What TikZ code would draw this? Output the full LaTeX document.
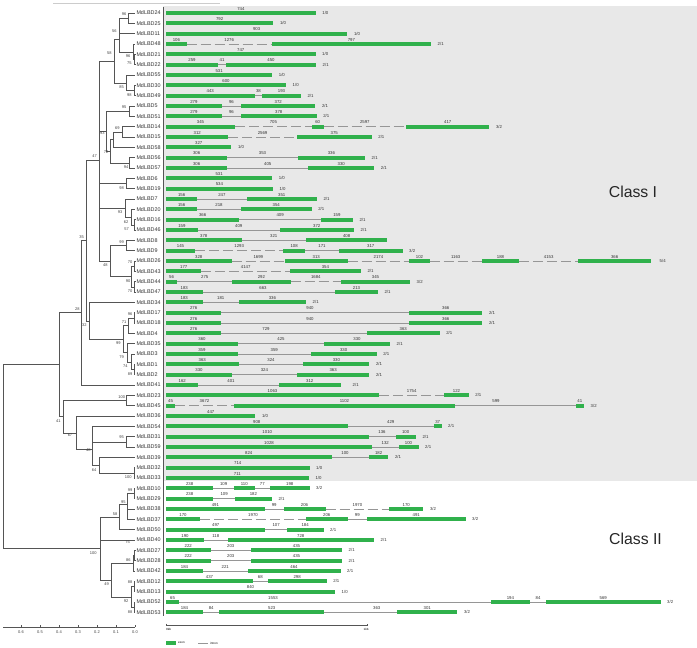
\documentclass[tikz,border=0pt]{standalone}
\usepackage{fontspec}
\setmainfont{Liberation Sans}
\usetikzlibrary{calc}
\definecolor{exonGreen}{RGB}{48,177,76}
\definecolor{classShade}{RGB}{232,232,232}
\definecolor{treeInk}{RGB}{85,85,85}
\definecolor{intronInk}{RGB}{150,150,150}
% row height of gene i
\newcommand{\ry}[1]{13+(#1-1)*10.333}
\newcommand{\exonbar}[4]{\fill[exonGreen] (#1,{\ry{#3}-1.9}) rectangle (#2,{\ry{#3}+1.9});
  \node[numlab] at ({(#1+#2)/2},{\ry{#3}-4.2}) {#4};}
\newcommand{\intronline}[4]{\draw[intronstroke] (#1,{\ry{#3}}) -- (#2,{\ry{#3}});
  \node[numlab] at ({(#1+#2)/2},{\ry{#3}-4.2}) {#4};}
\newcommand{\intronat}[5]{\draw[intronstroke] (#1,{\ry{#3}}) -- (#2,{\ry{#3}});
  \node[numlab] at (#5,{\ry{#3}-4.2}) {#4};}
\newcommand{\brokenline}[4]{\draw[intronstroke,dash pattern=on 10pt off 4pt] (#1,{\ry{#3}}) -- (#2,{\ry{#3}});
  \node[numlab] at ({(#1+#2)/2},{\ry{#3}-4.2}) {#4};}
\newcommand{\ratiotag}[3]{\node[ratiolab] at ({#1+6.5},{\ry{#2}}) {#3};}

\begin{document}
\begin{tikzpicture}[x=1pt,y=-1pt,
  branch/.style={draw=treeInk,line width=0.55pt},
  genelab/.style={anchor=west,inner sep=1.3pt,font=\fontsize{5.4}{6}\selectfont,text=black!80},
  numlab/.style={inner sep=0pt,font=\fontsize{4.3}{5}\selectfont,text=black!80},
  ratiolab/.style={anchor=west,inner sep=0pt,font=\fontsize{4.3}{5}\selectfont,text=black!80},
  bootlab/.style={inner sep=0pt,font=\fontsize{4}{5}\selectfont,text=black!75},
  intronstroke/.style={draw=intronInk,line width=0.6pt},
  classlab/.style={font=\fontsize{15.8}{18}\selectfont,text=black!85}]
\useasboundingbox (0,0) rectangle (697,648);

% shaded class I block
\fill[classShade] (163.3,6) rectangle (697,481);
\draw[black!20,line width=0.5pt] (53,3.3) -- (220,3.3);
\draw[treeInk,line width=0.8pt] (163.3,7) -- (163.3,616);
\node[classlab] (c1) at (633,191.7) {Class I};
\node[classlab] (c2) at (635.5,539) {Class II};

% gene names (tree tips)
\node[genelab] (g24) at (135,{\ry{1}}) {MdLBD24};
\node[genelab] (g25) at (135,{\ry{2}}) {MdLBD25};
\node[genelab] (g11) at (135,{\ry{3}}) {MdLBD11};
\node[genelab] (g48) at (135,{\ry{4}}) {MdLBD48};
\node[genelab] (g21) at (135,{\ry{5}}) {MdLBD21};
\node[genelab] (g22) at (135,{\ry{6}}) {MdLBD22};
\node[genelab] (g55) at (135,{\ry{7}}) {MdLBD55};
\node[genelab] (g30) at (135,{\ry{8}}) {MdLBD30};
\node[genelab] (g49) at (135,{\ry{9}}) {MdLBD49};
\node[genelab] (g5) at (135,{\ry{10}}) {MdLBD5};
\node[genelab] (g51) at (135,{\ry{11}}) {MdLBD51};
\node[genelab] (g14) at (135,{\ry{12}}) {MdLBD14};
\node[genelab] (g15) at (135,{\ry{13}}) {MdLBD15};
\node[genelab] (g58) at (135,{\ry{14}}) {MdLBD58};
\node[genelab] (g56) at (135,{\ry{15}}) {MdLBD56};
\node[genelab] (g57) at (135,{\ry{16}}) {MdLBD57};
\node[genelab] (g6) at (135,{\ry{17}}) {MdLBD6};
\node[genelab] (g19) at (135,{\ry{18}}) {MdLBD19};
\node[genelab] (g7) at (135,{\ry{19}}) {MdLBD7};
\node[genelab] (g20) at (135,{\ry{20}}) {MdLBD20};
\node[genelab] (g16) at (135,{\ry{21}}) {MdLBD16};
\node[genelab] (g46) at (135,{\ry{22}}) {MdLBD46};
\node[genelab] (g8) at (135,{\ry{23}}) {MdLBD8};
\node[genelab] (g9) at (135,{\ry{24}}) {MdLBD9};
\node[genelab] (g26) at (135,{\ry{25}}) {MdLBD26};
\node[genelab] (g43) at (135,{\ry{26}}) {MdLBD43};
\node[genelab] (g44) at (135,{\ry{27}}) {MdLBD44};
\node[genelab] (g47) at (135,{\ry{28}}) {MdLBD47};
\node[genelab] (g34) at (135,{\ry{29}}) {MdLBD34};
\node[genelab] (g17) at (135,{\ry{30}}) {MdLBD17};
\node[genelab] (g18) at (135,{\ry{31}}) {MdLBD18};
\node[genelab] (g4) at (135,{\ry{32}}) {MdLBD4};
\node[genelab] (g35) at (135,{\ry{33}}) {MdLBD35};
\node[genelab] (g3) at (135,{\ry{34}}) {MdLBD3};
\node[genelab] (g1) at (135,{\ry{35}}) {MdLBD1};
\node[genelab] (g2) at (135,{\ry{36}}) {MdLBD2};
\node[genelab] (g41) at (135,{\ry{37}}) {MdLBD41};
\node[genelab] (g23) at (135,{\ry{38}}) {MdLBD23};
\node[genelab] (g45) at (135,{\ry{39}}) {MdLBD45};
\node[genelab] (g36) at (135,{\ry{40}}) {MdLBD36};
\node[genelab] (g54) at (135,{\ry{41}}) {MdLBD54};
\node[genelab] (g31) at (135,{\ry{42}}) {MdLBD31};
\node[genelab] (g59) at (135,{\ry{43}}) {MdLBD59};
\node[genelab] (g39) at (135,{\ry{44}}) {MdLBD39};
\node[genelab] (g32) at (135,{\ry{45}}) {MdLBD32};
\node[genelab] (g33) at (135,{\ry{46}}) {MdLBD33};
\node[genelab] (g10) at (135,{\ry{47}}) {MdLBD10};
\node[genelab] (g29) at (135,{\ry{48}}) {MdLBD29};
\node[genelab] (g38) at (135,{\ry{49}}) {MdLBD38};
\node[genelab] (g37) at (135,{\ry{50}}) {MdLBD37};
\node[genelab] (g50) at (135,{\ry{51}}) {MdLBD50};
\node[genelab] (g40) at (135,{\ry{52}}) {MdLBD40};
\node[genelab] (g27) at (135,{\ry{53}}) {MdLBD27};
\node[genelab] (g28) at (135,{\ry{54}}) {MdLBD28};
\node[genelab] (g42) at (135,{\ry{55}}) {MdLBD42};
\node[genelab] (g12) at (135,{\ry{56}}) {MdLBD12};
\node[genelab] (g13) at (135,{\ry{57}}) {MdLBD13};
\node[genelab] (g52) at (135,{\ry{58}}) {MdLBD52};
\node[genelab] (g53) at (135,{\ry{59}}) {MdLBD53};

% inner nodes, class I
\coordinate (n96a) at (128.7,18.2);
\coordinate (n56) at (119,26);
\coordinate (n75a) at (134.5,59.5);
\coordinate (n96b) at (133,51.8);
\coordinate (nJ) at (119,38.9);
\coordinate (n98a) at (134.5,90.5);
\coordinate (n85) at (126,82.8);
\coordinate (n58a) at (114.3,60.8);
\coordinate (n95a) at (129,111.2);
\coordinate (n69) at (122.3,131.8);
\coordinate (n58l) at (113.3,139.6);
\coordinate (n94) at (129.3,162.8);
\coordinate (n72) at (110.7,151.2);
\coordinate (n93a) at (106.7,131.2);
\coordinate (n98b) at (126.7,183.5);
\coordinate (n57) at (134.5,224.8);
\coordinate (n62) at (131,217);
\coordinate (n93b) at (125,208);
\coordinate (n99a) at (126,245.5);
\coordinate (n70a) at (134.7,266.2);
\coordinate (n70b) at (134.7,286.8);
\coordinate (n90) at (131.3,276.5);
\coordinate (n48a) at (110,261);
\coordinate (n47) at (99.3,160);
\coordinate (n96c) at (134.3,317.8);
\coordinate (n71) at (128.3,325.6);
\coordinate (n89) at (134.3,369.5);
\coordinate (n74) at (131,361.8);
\coordinate (n79) at (127,352.7);
\coordinate (n99b) at (123.3,339.2);
\coordinate (n32) at (89.3,320.8);
\coordinate (n35) at (86.7,240.4);
\coordinate (n28) at (81.7,312.7);
\coordinate (n100a) at (126,400.5);
\coordinate (n95b) at (126.7,441.8);
\coordinate (n54) at (92.7,434.1);
\coordinate (n100b) at (134,472.8);
\coordinate (n64) at (99.3,465.1);
\coordinate (n48b) at (92.7,449.6);
\coordinate (n67) at (76.7,432.8);
\coordinate (n41) at (63.3,416.7);
\coordinate (nC1) at (59,364.7);
% inner nodes, class II
\coordinate (n99c) at (134.3,493.5);
\coordinate (n3837) at (127.7,514.2);
\coordinate (n95c) at (127.7,503.8);
\coordinate (n58b) at (119.3,516.8);
\coordinate (n75b) at (134.6,555.5);
\coordinate (n86) at (133,563.2);
\coordinate (n88a) at (134.3,586.5);
\coordinate (n88b) at (134.3,607.2);
\coordinate (n92) at (131,596.8);
\coordinate (n49) at (111,580);
\coordinate (nC2) at (100,548.3);
\coordinate (nRoot) at (3,456.5);

% branches
\draw[branch] (n96a) |- (g24) (n96a) |- (g25);
\draw[branch] (n56) |- (n96a) (n56) |- (g11);
\draw[branch] (n75a) |- (g21) (n75a) |- (g22);
\draw[branch] (n96b) |- (g48) (n96b) |- (n75a);
\draw[branch] (nJ) |- (n56) (nJ) |- (n96b);
\draw[branch] (n98a) |- (g30) (n98a) |- (g49);
\draw[branch] (n85) |- (g55) (n85) |- (n98a);
\draw[branch] (n58a) |- (nJ) (n58a) |- (n85);
\draw[branch] (n95a) |- (g5) (n95a) |- (g51);
\draw[branch] (n69) |- (g14) (n69) |- (g15);
\draw[branch] (n58l) |- (n69) (n58l) |- (g58);
\draw[branch] (n94) |- (g56) (n94) |- (g57);
\draw[branch] (n72) |- (n58l) (n72) |- (n94);
\draw[branch] (n93a) |- (n95a) (n93a) |- (n72);
\draw[branch] (n98b) |- (g6) (n98b) |- (g19);
\draw[branch] (n57) |- (g16) (n57) |- (g46);
\draw[branch] (n62) |- (g20) (n62) |- (n57);
\draw[branch] (n93b) |- (g7) (n93b) |- (n62);
\draw[branch] (n99a) |- (g8) (n99a) |- (g9);
\draw[branch] (n70a) |- (g26) (n70a) |- (g43);
\draw[branch] (n70b) |- (g44) (n70b) |- (g47);
\draw[branch] (n90) |- (n70a) (n90) |- (n70b);
\draw[branch] (n48a) |- (n99a) (n48a) |- (n90);
\draw[branch] (n47) |- (n58a) (n47) |- (n93a) (n47) |- (n98b) (n47) |- (n93b) (n47) |- (n48a);
\draw[branch] (n96c) |- (g17) (n96c) |- (g18);
\draw[branch] (n71) |- (n96c) (n71) |- (g4);
\draw[branch] (n89) |- (g1) (n89) |- (g2);
\draw[branch] (n74) |- (g3) (n74) |- (n89);
\draw[branch] (n79) |- (g35) (n79) |- (n74);
\draw[branch] (n99b) |- (n71) (n99b) |- (n79);
\draw[branch] (n32) |- (g34) (n32) |- (n99b);
\draw[branch] (n35) |- (n47) (n35) |- (n32);
\draw[branch] (n28) |- (n35) (n28) |- (g41);
\draw[branch] (n100a) |- (g23) (n100a) |- (g45);
\draw[branch] (n95b) |- (g31) (n95b) |- (g59);
\draw[branch] (n54) |- (g54) (n54) |- (n95b);
\draw[branch] (n100b) |- (g32) (n100b) |- (g33);
\draw[branch] (n64) |- (g39) (n64) |- (n100b);
\draw[branch] (n48b) |- (n54) (n48b) |- (n64);
\draw[branch] (n67) |- (g36) (n67) |- (n48b);
\draw[branch] (n41) |- (n100a) (n41) |- (n67);
\draw[branch] (nC1) |- (n28) (nC1) |- (n41);
\draw[branch] (n99c) |- (g10) (n99c) |- (g29);
\draw[branch] (n3837) |- (g38) (n3837) |- (g37);
\draw[branch] (n95c) |- (n99c) (n95c) |- (n3837);
\draw[branch] (n58b) |- (n95c) (n58b) |- (g50);
\draw[branch] (n75b) |- (g27) (n75b) |- (g28);
\draw[branch] (n86) |- (n75b) (n86) |- (g42);
\draw[branch] (n88a) |- (g12) (n88a) |- (g13);
\draw[branch] (n88b) |- (g52) (n88b) |- (g53);
\draw[branch] (n92) |- (n88a) (n92) |- (n88b);
\draw[branch] (n49) |- (n86) (n49) |- (n92);
\draw[branch] (nC2) |- (n58b) (nC2) |- (g40) (nC2) |- (n49);
\draw[branch] (nRoot) |- (nC1) (nRoot) |- (nC2);

% bootstrap values
\node[bootlab] at (124,14) {96};
\node[bootlab] at (114.3,31) {56};
\node[bootlab] at (109.3,53.3) {58};
\node[bootlab] at (128,56) {96};
\node[bootlab] at (129.3,63.3) {75};
\node[bootlab] at (121.7,87.3) {85};
\node[bootlab] at (129.3,95) {98};
\node[bootlab] at (124,107.3) {95};
\node[bootlab] at (117.3,127.7) {69};
\node[bootlab] at (102.3,133.3) {93};
\node[bootlab] at (106,151.7) {72};
\node[bootlab] at (126,166.7) {94};
\node[bootlab] at (94.7,155.7) {47};
\node[bootlab] at (121.7,187.7) {98};
\node[bootlab] at (120,211.7) {93};
\node[bootlab] at (126,221.7) {62};
\node[bootlab] at (126.7,229) {57};
\node[bootlab] at (81.7,236.7) {35};
\node[bootlab] at (121.7,242.3) {99};
\node[bootlab] at (105.3,265) {48};
\node[bootlab] at (130,262.3) {70};
\node[bootlab] at (128,281) {90};
\node[bootlab] at (130,291) {70};
\node[bootlab] at (77.3,309) {28};
\node[bootlab] at (130,314.3) {96};
\node[bootlab] at (124,322.3) {71};
\node[bootlab] at (84.3,325) {32};
\node[bootlab] at (118.3,343.3) {99};
\node[bootlab] at (121.7,356.7) {79};
\node[bootlab] at (125.3,365.7) {74};
\node[bootlab] at (130,374.3) {89};
\node[bootlab] at (121.7,397.3) {100};
\node[bootlab] at (58.3,420.7) {41};
\node[bootlab] at (121.7,436.7) {95};
\node[bootlab] at (70,435) {67};
\node[bootlab] at (88.3,450) {48};
\node[bootlab] at (94,470) {64};
\node[bootlab] at (128.3,477.3) {100};
\node[bootlab] at (130,490) {99};
\node[bootlab] at (123.3,502.3) {95};
\node[bootlab] at (115,514.3) {58};
\node[bootlab] at (127.7,542.3) {75};
\node[bootlab] at (93.3,553.3) {100};
\node[bootlab] at (128.3,560) {86};
\node[bootlab] at (130,582.3) {88};
\node[bootlab] at (106.7,584.3) {49};
\node[bootlab] at (126,601) {92};
\node[bootlab] at (130,611.7) {88};

% distance axis
\draw[treeInk,line width=0.5pt] (3,627) -- (135,627);
\draw[treeInk,line width=0.5pt] (21,625) -- (21,627) (40,625) -- (40,627) (59,625) -- (59,627)
  (78,625) -- (78,627) (97,625) -- (97,627) (116,625) -- (116,627) (135,625) -- (135,627);
\node[bootlab] at (21,632.5) {0.6};
\node[bootlab] at (40,632.5) {0.5};
\node[bootlab] at (59,632.5) {0.4};
\node[bootlab] at (78,632.5) {0.3};
\node[bootlab] at (97,632.5) {0.2};
\node[bootlab] at (116,632.5) {0.1};
\node[bootlab] at (135,632.5) {0.0};

% gene structures
\exonbar{166}{315.7}{1}{744} \ratiotag{315.7}{1}{1/0}
\exonbar{166}{273.3}{2}{792} \ratiotag{273.3}{2}{1/0}
\exonbar{166}{347.3}{3}{903} \ratiotag{347.3}{3}{1/0}
\exonbar{166}{186.7}{4}{106} \brokenline{186.7}{271.7}{4}{1276} \exonbar{271.7}{431}{4}{797} \ratiotag{431}{4}{2/1}
\exonbar{166}{315.5}{5}{747} \ratiotag{315.5}{5}{1/0}
\exonbar{166}{218}{6}{259} \intronline{218}{226}{6}{41} \exonbar{226}{316}{6}{450} \ratiotag{316}{6}{2/1}
\exonbar{166}{272.2}{7}{531} \ratiotag{272.2}{7}{1/0}
\exonbar{166}{286}{8}{600} \ratiotag{286}{8}{1/0}
\exonbar{166}{254.6}{9}{443} \intronline{254.6}{262.2}{9}{38} \exonbar{262.2}{300.8}{9}{193} \ratiotag{300.8}{9}{2/1}
\exonbar{166}{221.8}{10}{279} \intronline{221.8}{241}{10}{96} \exonbar{241}{315.4}{10}{372} \ratiotag{315.4}{10}{2/1}
\exonbar{166}{221.8}{11}{279} \intronline{221.8}{241}{11}{96} \exonbar{241}{316.6}{11}{378} \ratiotag{316.6}{11}{2/1}
\exonbar{166}{235}{12}{345} \brokenline{235}{311.7}{12}{705} \exonbar{311.7}{323.7}{12}{60} \brokenline{323.7}{406}{12}{2597} \exonbar{406}{489.4}{12}{417} \ratiotag{489.4}{12}{3/2}
\exonbar{166}{228.4}{13}{312} \brokenline{228.4}{296.7}{13}{2569} \exonbar{296.7}{371.7}{13}{375} \ratiotag{371.7}{13}{2/1}
\exonbar{166}{231.4}{14}{327} \ratiotag{231.4}{14}{1/0}
\exonbar{166}{227.2}{15}{306} \intronline{227.2}{297.8}{15}{353} \exonbar{297.8}{365}{15}{336} \ratiotag{365}{15}{2/1}
\exonbar{166}{227.2}{16}{306} \intronline{227.2}{308.2}{16}{405} \exonbar{308.2}{374.2}{16}{330} \ratiotag{374.2}{16}{2/1}
\exonbar{166}{272.2}{17}{531} \ratiotag{272.2}{17}{1/0}
\exonbar{166}{272.8}{18}{534} \ratiotag{272.8}{18}{1/0}
\exonbar{166}{197.2}{19}{156} \intronline{197.2}{246.6}{19}{247} \exonbar{246.6}{316.8}{19}{351} \ratiotag{316.8}{19}{2/1}
\exonbar{166}{197.2}{20}{156} \intronline{197.2}{240.8}{20}{218} \exonbar{240.8}{311.6}{20}{354} \ratiotag{311.6}{20}{2/1}
\exonbar{166}{239.2}{21}{366} \intronline{239.2}{321}{21}{409} \exonbar{321}{352.8}{21}{159} \ratiotag{352.8}{21}{2/1}
\exonbar{166}{197.8}{22}{159} \intronline{197.8}{279.6}{22}{409} \exonbar{279.6}{354}{22}{372} \ratiotag{354}{22}{2/1}
\exonbar{166}{241.6}{23}{378} \intronline{241.6}{305.8}{23}{321} \exonbar{305.8}{387.4}{23}{408}
\exonbar{166}{195}{24}{145} \brokenline{195}{283.3}{24}{1293} \exonbar{283.3}{304.9}{24}{108} \intronline{304.9}{339.1}{24}{171} \exonbar{339.1}{402.5}{24}{317} \ratiotag{402.5}{24}{3/2}
\exonbar{166}{231.6}{25}{328} \brokenline{231.6}{285}{25}{1699} \exonbar{285}{347.6}{25}{313} \brokenline{347.6}{409.3}{25}{2174} \exonbar{409.3}{429.7}{25}{102}
  \brokenline{429.7}{481.7}{25}{1163} \exonbar{481.7}{519.3}{25}{188} \brokenline{519.3}{578}{25}{4153} \exonbar{578}{651.2}{25}{366} \ratiotag{653}{25}{5/4}
\exonbar{166}{201.4}{26}{177} \brokenline{201.4}{290}{26}{4147} \exonbar{290}{360.8}{26}{354} \ratiotag{360.8}{26}{2/1}
\exonbar{166}{177.2}{27}{56} \intronline{177.2}{232.2}{27}{275} \exonbar{232.2}{290.6}{27}{292} \brokenline{290.6}{341}{27}{1684} \exonbar{341}{410}{27}{345} \ratiotag{410}{27}{3/2}
\exonbar{166}{202.6}{28}{183} \intronat{202.6}{335.2}{28}{663}{263} \exonbar{335.2}{377.8}{28}{213} \ratiotag{377.8}{28}{2/1}
\exonbar{166}{202.6}{29}{183} \intronline{202.6}{238.8}{29}{181} \exonbar{238.8}{306}{29}{336} \ratiotag{306}{29}{2/1}
\exonbar{166}{221.2}{30}{276} \intronat{221.2}{409.2}{30}{940}{310} \exonbar{409.2}{482.4}{30}{366} \ratiotag{482.4}{30}{2/1}
\exonbar{166}{221.2}{31}{276} \intronat{221.2}{409.2}{31}{940}{310} \exonbar{409.2}{482.4}{31}{366} \ratiotag{482.4}{31}{2/1}
\exonbar{166}{221.2}{32}{276} \intronat{221.2}{367}{32}{729}{266} \exonbar{367}{439.6}{32}{363} \ratiotag{439.6}{32}{2/1}
\exonbar{166}{238}{33}{360} \intronline{238}{324}{33}{425} \exonbar{324}{390}{33}{330} \ratiotag{390}{33}{2/1}
\exonbar{166}{237.8}{34}{359} \intronline{237.8}{310.6}{34}{359} \exonbar{310.6}{376.6}{34}{330} \ratiotag{376.6}{34}{2/1}
\exonbar{166}{238.6}{35}{363} \intronline{238.6}{303.4}{35}{324} \exonbar{303.4}{369.4}{35}{330} \ratiotag{369.4}{35}{2/1}
\exonbar{166}{232}{36}{330} \intronline{232}{296.8}{36}{324} \exonbar{296.8}{369.4}{36}{363} \ratiotag{369.4}{36}{2/1}
\exonbar{166}{198.4}{37}{162} \intronat{198.4}{278.6}{37}{401}{231} \exonbar{278.6}{341}{37}{312} \ratiotag{346}{37}{2/1}
\exonbar{166}{379}{38}{1063} \brokenline{379}{444.3}{38}{1754} \exonbar{444.3}{468.7}{38}{122} \ratiotag{468.7}{38}{2/1}
\exonbar{166}{175}{39}{45} \brokenline{175}{234}{39}{3672} \exonbar{234}{455}{39}{1102} \intronat{455}{575.7}{39}{599}{496} \exonbar{575.7}{584}{39}{41} \ratiotag{584}{39}{3/2}
\exonbar{166}{255.4}{40}{447} \ratiotag{255.4}{40}{1/0}
\exonbar{166}{347.6}{41}{908} \intronline{347.6}{433.8}{41}{429} \exonbar{433.8}{441.5}{41}{37} \ratiotag{441.5}{41}{2/1}
\exonbar{166}{368.5}{42}{1010} \intronline{368.5}{395.5}{42}{136} \exonbar{395.5}{415.8}{42}{100} \ratiotag{415.8}{42}{2/1}
\exonbar{166}{372}{43}{1028} \intronline{372}{398.5}{43}{132} \exonbar{398.5}{418.5}{43}{100} \ratiotag{418.5}{43}{2/1}
\exonbar{166}{331.5}{44}{824} \intronat{331.5}{369}{44}{100}{345} \exonbar{369}{388.3}{44}{182} \ratiotag{388.3}{44}{2/1}
\exonbar{166}{309.5}{45}{714} \ratiotag{309.5}{45}{1/0}
\exonbar{166}{308.8}{46}{711} \ratiotag{308.8}{46}{1/0}
\exonbar{166}{213.3}{47}{238} \intronline{213.3}{234}{47}{109} \exonbar{234}{254.5}{47}{110} \intronline{254.5}{270}{47}{77} \exonbar{270}{309.5}{47}{198} \ratiotag{309.5}{47}{3/2}
\exonbar{166}{213.3}{48}{238} \intronline{213.3}{235}{48}{109} \exonbar{235}{271.8}{48}{182} \ratiotag{271.8}{48}{2/1}
\exonbar{166}{264.8}{49}{491} \intronline{264.8}{283.5}{49}{99} \exonbar{283.5}{325.5}{49}{206} \brokenline{325.5}{389.3}{49}{1970} \exonbar{389.3}{423.3}{49}{170} \ratiotag{423.3}{49}{3/2}
\exonbar{166}{200}{50}{170} \brokenline{200}{306}{50}{1970} \exonbar{306}{347.5}{50}{206} \intronline{347.5}{367}{50}{99} \exonbar{367}{465.5}{50}{491} \ratiotag{465.5}{50}{3/2}
\exonbar{166}{265.4}{51}{497} \intronline{265.4}{286.8}{51}{107} \exonbar{286.8}{323.5}{51}{184} \ratiotag{323.5}{51}{2/1}
\exonbar{166}{204}{52}{190} \intronline{204}{227.5}{52}{118} \exonbar{227.5}{374}{52}{728} \ratiotag{374}{52}{2/1}
\exonbar{166}{210.6}{53}{222} \intronline{210.6}{251}{53}{203} \exonbar{251}{342}{53}{435} \ratiotag{342}{53}{2/1}
\exonbar{166}{210.6}{54}{222} \intronline{210.6}{251}{54}{203} \exonbar{251}{342}{54}{435} \ratiotag{342}{54}{2/1}
\exonbar{166}{203}{55}{184} \intronline{203}{247.5}{55}{221} \exonbar{247.5}{340.5}{55}{464} \ratiotag{340.5}{55}{2/1}
\exonbar{166}{253}{56}{437} \intronline{253}{267.5}{56}{68} \exonbar{267.5}{326.7}{56}{298} \ratiotag{326.7}{56}{2/1}
\exonbar{166}{335}{57}{840} \ratiotag{335}{57}{1/0}
\exonbar{166}{179.2}{58}{65} \intronat{179.2}{490.7}{58}{1553}{273} \exonbar{490.7}{530}{58}{194} \intronline{530}{546}{58}{84} \exonbar{546}{660.5}{58}{569} \ratiotag{660.5}{58}{3/2}
\exonbar{166}{203}{59}{184} \intronline{203}{219.3}{59}{84} \exonbar{219.3}{324.3}{59}{523} \intronat{324.3}{397.2}{59}{363}{376.7} \exonbar{397.2}{457.3}{59}{301} \ratiotag{457.3}{59}{3/2}

% scale bar and legend
\draw[treeInk,line width=0.45pt] (166,623.5) -- (166,625) -- (367,625) -- (367,623.5);
\node[inner sep=0pt,font=\fontsize{3}{4}\selectfont] (kb0) at (168.5,629.5) {0kb};
\node[inner sep=0pt,font=\fontsize{3}{4}\selectfont] (kb1) at (366,629.5) {1kb};
\fill[exonGreen] (166,641.3) rectangle (176,644.7);
\node[anchor=west,inner sep=0pt,font=\fontsize{3}{4}\selectfont] (lgex) at (178,643) {exon};
\draw[intronstroke] (198,643) -- (208,643);
\node[anchor=west,inner sep=0pt,font=\fontsize{3}{4}\selectfont] (lgin) at (210,643) {intron};
\end{tikzpicture}
\end{document}
